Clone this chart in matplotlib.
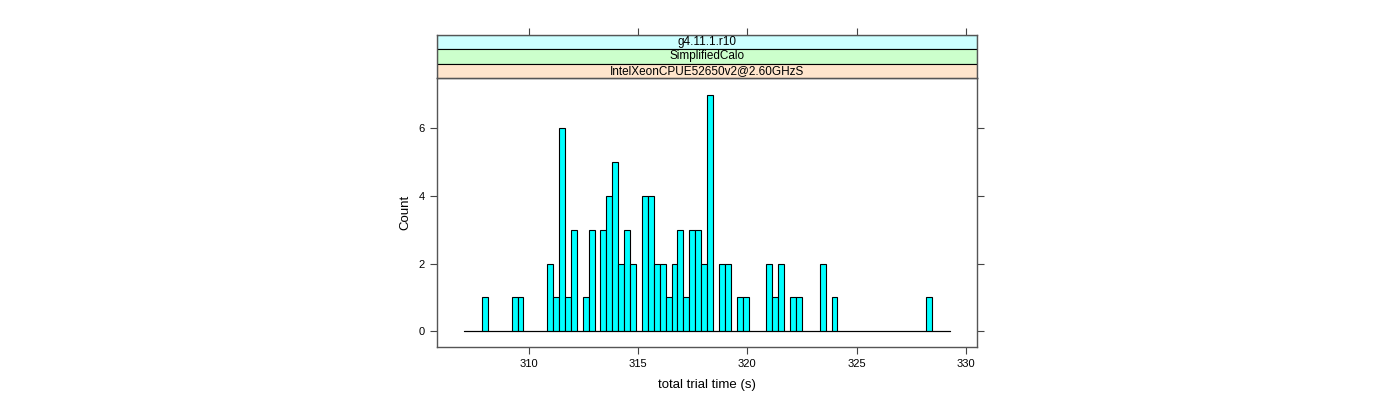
import matplotlib
matplotlib.use("Agg")
import matplotlib.pyplot as plt
from matplotlib.patches import Rectangle
import numpy as np

# histogram bins (equal width between the break range) and counts per bin
break_lo, break_hi = 307.06, 329.27
counts = [0, 0, 0, 1, 0, 0, 0, 0, 1, 1,
          0, 0, 0, 0, 2, 1, 6, 1, 3, 0,
          1, 3, 0, 3, 4, 5, 2, 3, 2, 0,
          4, 4, 2, 2, 1, 2, 3, 1, 3, 3,
          2, 7, 0, 2, 2, 0, 1, 1, 0, 0,
          0, 2, 1, 2, 0, 1, 1, 0, 0, 0,
          2, 0, 1, 0, 0, 0, 0, 0, 0, 0,
          0, 0, 0, 0, 0, 0, 0, 0, 1, 0,
          0, 0]
x_ticks = [310, 315, 320, 325, 330]
y_ticks = [0, 2, 4, 6]
strip_labels = ["g4.11.1.r10", "SimplifiedCalo", "IntelXeonCPUE52650v2@2.60GHzS"]
strip_colors = ["#ccffff", "#ccffcc", "#ffe5cc"]

plt.rcParams['font.family'] = ['Liberation Sans', 'DejaVu Sans']

W, H = 1400, 400
fig = plt.figure(figsize=(14, 4), dpi=100)

# pixel layout
px_left, px_right = 437.3, 976.7
px_top, px_bottom = 78.0, 346.7
strip_top = 34.7

def fig_rect(x0, x1, y0, y1):
    return [x0 / W, 1 - y1 / H, (x1 - x0) / W, (y1 - y0) / H]

ax = fig.add_axes(fig_rect(px_left, px_right, px_top, px_bottom))
edges = np.linspace(break_lo, break_hi, len(counts) + 1)
ax.bar(edges[:-1], counts, width=np.diff(edges), align='edge',
       color='#00ffff', edgecolor='black', linewidth=0.8)
ax.plot([edges[0], edges[-1]], [0, 0], color='black', linewidth=0.8)

ax.set_xlim(305.83, 330.49)
ax.set_ylim(-0.455, 7.49)
ax.set_xticks(x_ticks)
ax.set_yticks(y_ticks)
ax.tick_params(axis='both', direction='out', length=5, width=0.8,
               color='#444444', labelsize=8, pad=4)
ax.tick_params(axis='y', right=True, labelright=False)
for s in ax.spines.values():
    s.set_color('#555555')
    s.set_linewidth(1.0)
ax.set_xlabel("total trial time (s)", fontsize=9.5, labelpad=7)
ax.set_ylabel("Count", fontsize=9.5, labelpad=5)

# strips
sax = fig.add_axes(fig_rect(px_left, px_right, strip_top, px_top))
sax.set_xlim(ax.get_xlim())
sax.set_ylim(0, 3)
n = len(strip_labels)
for i, (lab, col) in enumerate(zip(strip_labels, strip_colors)):
    y0 = n - 1 - i
    sax.add_patch(Rectangle((ax.get_xlim()[0], y0), ax.get_xlim()[1] - ax.get_xlim()[0], 1,
                            facecolor=col, edgecolor='black', linewidth=0.8))
    sax.text(np.mean(ax.get_xlim()), y0 + 0.5, lab, ha='center', va='center', fontsize=8.5)
sax.set_yticks([])
sax.set_xticks(x_ticks)
sax.tick_params(axis='x', bottom=False, labelbottom=False, top=True, labeltop=False,
                direction='out', length=5, width=0.8, color='#444444')
for s in sax.spines.values():
    s.set_color('#555555')
    s.set_linewidth(1.0)

fig.savefig("out.png", dpi=100)
plt.close(fig)
